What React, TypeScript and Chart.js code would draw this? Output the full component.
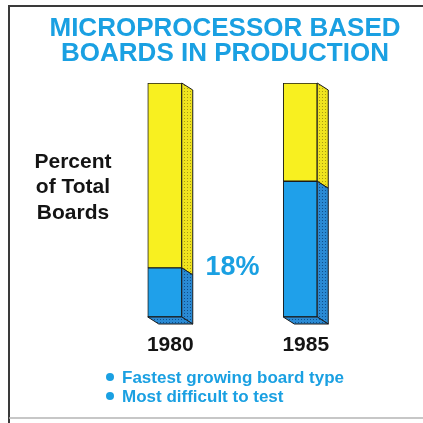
import React, { useEffect, useRef } from "react";
import { Chart, registerables } from "chart.js";

Chart.register(...registerables);

const categories = ["1980", "1985"];
const microprocessorShare = [21, 58];
const otherShare = [79, 42];
const titleLines = ["MICROPROCESSOR BASED", "BOARDS IN PRODUCTION"];
const yAxisLabelLines = ["Percent", "of Total", "Boards"];
const annotationLabel = "18%";
const bulletNotes = ["Fastest growing board type", "Most difficult to test"];

const BLUE = "#1fa0ea";
const YELLOW = "#f8f020";
const TEXT_BLUE = "#1aa0e2";
const OUTLINE = "#1b1b1b";
const FONT = '"Liberation Sans", Arial, sans-serif';
const DX = 11;
const DY = 7;

function dots(ctx: CanvasRenderingContext2D, base: string, dot: string) {
  const c = document.createElement("canvas");
  c.width = 3;
  c.height = 3;
  const g = c.getContext("2d")!;
  g.fillStyle = base;
  g.fillRect(0, 0, 3, 3);
  g.fillStyle = dot;
  g.fillRect(1, 1, 1, 1);
  return ctx.createPattern(c, "repeat")!;
}

function poly(ctx: CanvasRenderingContext2D, pts: number[][], fill: any) {
  ctx.beginPath();
  ctx.moveTo(pts[0][0], pts[0][1]);
  for (let i = 1; i < pts.length; i++) ctx.lineTo(pts[i][0], pts[i][1]);
  ctx.closePath();
  ctx.fillStyle = fill;
  ctx.fill();
  ctx.strokeStyle = OUTLINE;
  ctx.lineWidth = 1;
  ctx.stroke();
}

const depthPlugin = {
  id: "depth",
  beforeDraw(chart: any) {
    const ctx = chart.ctx as CanvasRenderingContext2D;
    ctx.save();
    ctx.fillStyle = "#ffffff";
    ctx.fillRect(0, 0, chart.width, chart.height);
    ctx.strokeStyle = "#3a3a3a";
    ctx.lineWidth = 2;
    ctx.beginPath();
    ctx.moveTo(9, 423);
    ctx.lineTo(9, 6);
    ctx.lineTo(423, 6);
    ctx.stroke();
    ctx.strokeStyle = "#b5b5b5";
    ctx.lineWidth = 1.5;
    ctx.beginPath();
    ctx.moveTo(9, 418);
    ctx.lineTo(423, 418);
    ctx.stroke();
    ctx.restore();
  },
  afterDatasetsDraw(chart: any) {
    const ctx = chart.ctx as CanvasRenderingContext2D;
    const blueMeta = chart.getDatasetMeta(0);
    const yelMeta = chart.getDatasetMeta(1);
    const blueDots = dots(ctx, "#2a8ad4", "#0e4f8c");
    const yelDots = dots(ctx, "#f0e41e", "#a99a10");
    ctx.save();
    blueMeta.data.forEach((bar: any, i: number) => {
      const b = bar.getProps(["x", "y", "base", "width"], true);
      const yb = yelMeta.data[i].getProps(["x", "y", "base", "width"], true);
      const left = b.x - b.width / 2;
      const right = b.x + b.width / 2;
      poly(ctx, [[right, yb.y], [right + DX, yb.y + DY], [right + DX, yb.base + DY], [right, yb.base]], yelDots);
      poly(ctx, [[right, b.y], [right + DX, b.y + DY], [right + DX, b.base + DY], [right, b.base]], blueDots);
      poly(ctx, [[left, b.base], [right, b.base], [right + DX, b.base + DY], [left + DX, b.base + DY]], blueDots);
    });
    ctx.restore();
  },
  afterDraw(chart: any) {
    const ctx = chart.ctx as CanvasRenderingContext2D;
    const blueMeta = chart.getDatasetMeta(0);
    const bars = blueMeta.data.map((e: any) => e.getProps(["x", "y", "base", "width"], true));
    ctx.save();
    ctx.textBaseline = "middle";
    ctx.textAlign = "center";
    ctx.fillStyle = TEXT_BLUE;
    ctx.font = `bold 26px ${FONT}`;
    titleLines.forEach((t, i) => ctx.fillText(t, 225, 29 + i * 25));
    ctx.fillStyle = "#141414";
    ctx.font = `bold 21px ${FONT}`;
    yAxisLabelLines.forEach((t, i) => ctx.fillText(t, 73, 162 + i * 25.5));
    ctx.fillStyle = TEXT_BLUE;
    ctx.font = `bold 27px ${FONT}`;
    ctx.fillText(annotationLabel, (bars[0].x + bars[1].x) / 2, bars[0].y);
    ctx.fillStyle = "#141414";
    ctx.font = `bold 21px ${FONT}`;
    bars.forEach((b: any, i: number) => ctx.fillText(categories[i], b.x + DX / 2, b.base + 28));
    ctx.textAlign = "left";
    ctx.font = `bold 17px ${FONT}`;
    bulletNotes.forEach((t, i) => {
      const y = 377 + i * 19;
      ctx.fillStyle = TEXT_BLUE;
      ctx.beginPath();
      ctx.arc(110, y, 4, 0, Math.PI * 2);
      ctx.fill();
      ctx.fillText(t, 122, y + 1);
    });
    ctx.restore();
  },
};

export default function App() {
  const ref = useRef<HTMLCanvasElement>(null);
  useEffect(() => {
    const chart = new Chart(ref.current!, {
      type: "bar",
      data: {
        labels: categories,
        datasets: [
          {
            label: "Microprocessor based",
            data: microprocessorShare,
            backgroundColor: BLUE,
            borderColor: OUTLINE,
            borderWidth: 1,
            borderSkipped: false,
            barThickness: 34,
          },
          {
            label: "Other boards",
            data: otherShare,
            backgroundColor: YELLOW,
            borderColor: OUTLINE,
            borderWidth: 1,
            borderSkipped: false,
            barThickness: 34,
          },
        ],
      },
      options: {
        responsive: false,
        animation: false,
        layout: { padding: { left: 97, right: 55, top: 83, bottom: 106 } },
        plugins: { legend: { display: false }, title: { display: false }, tooltip: { enabled: false } },
        scales: {
          x: { stacked: true, display: false },
          y: { stacked: true, display: false, min: 0, max: 100 },
        },
      },
      plugins: [depthPlugin],
    });
    return () => chart.destroy();
  }, []);
  return (
    <div style={{ position: "fixed", left: 0, top: 0, width: 423, height: 423, background: "#fff" }}>
      <canvas ref={ref} width={423} height={423} />
    </div>
  );
}
